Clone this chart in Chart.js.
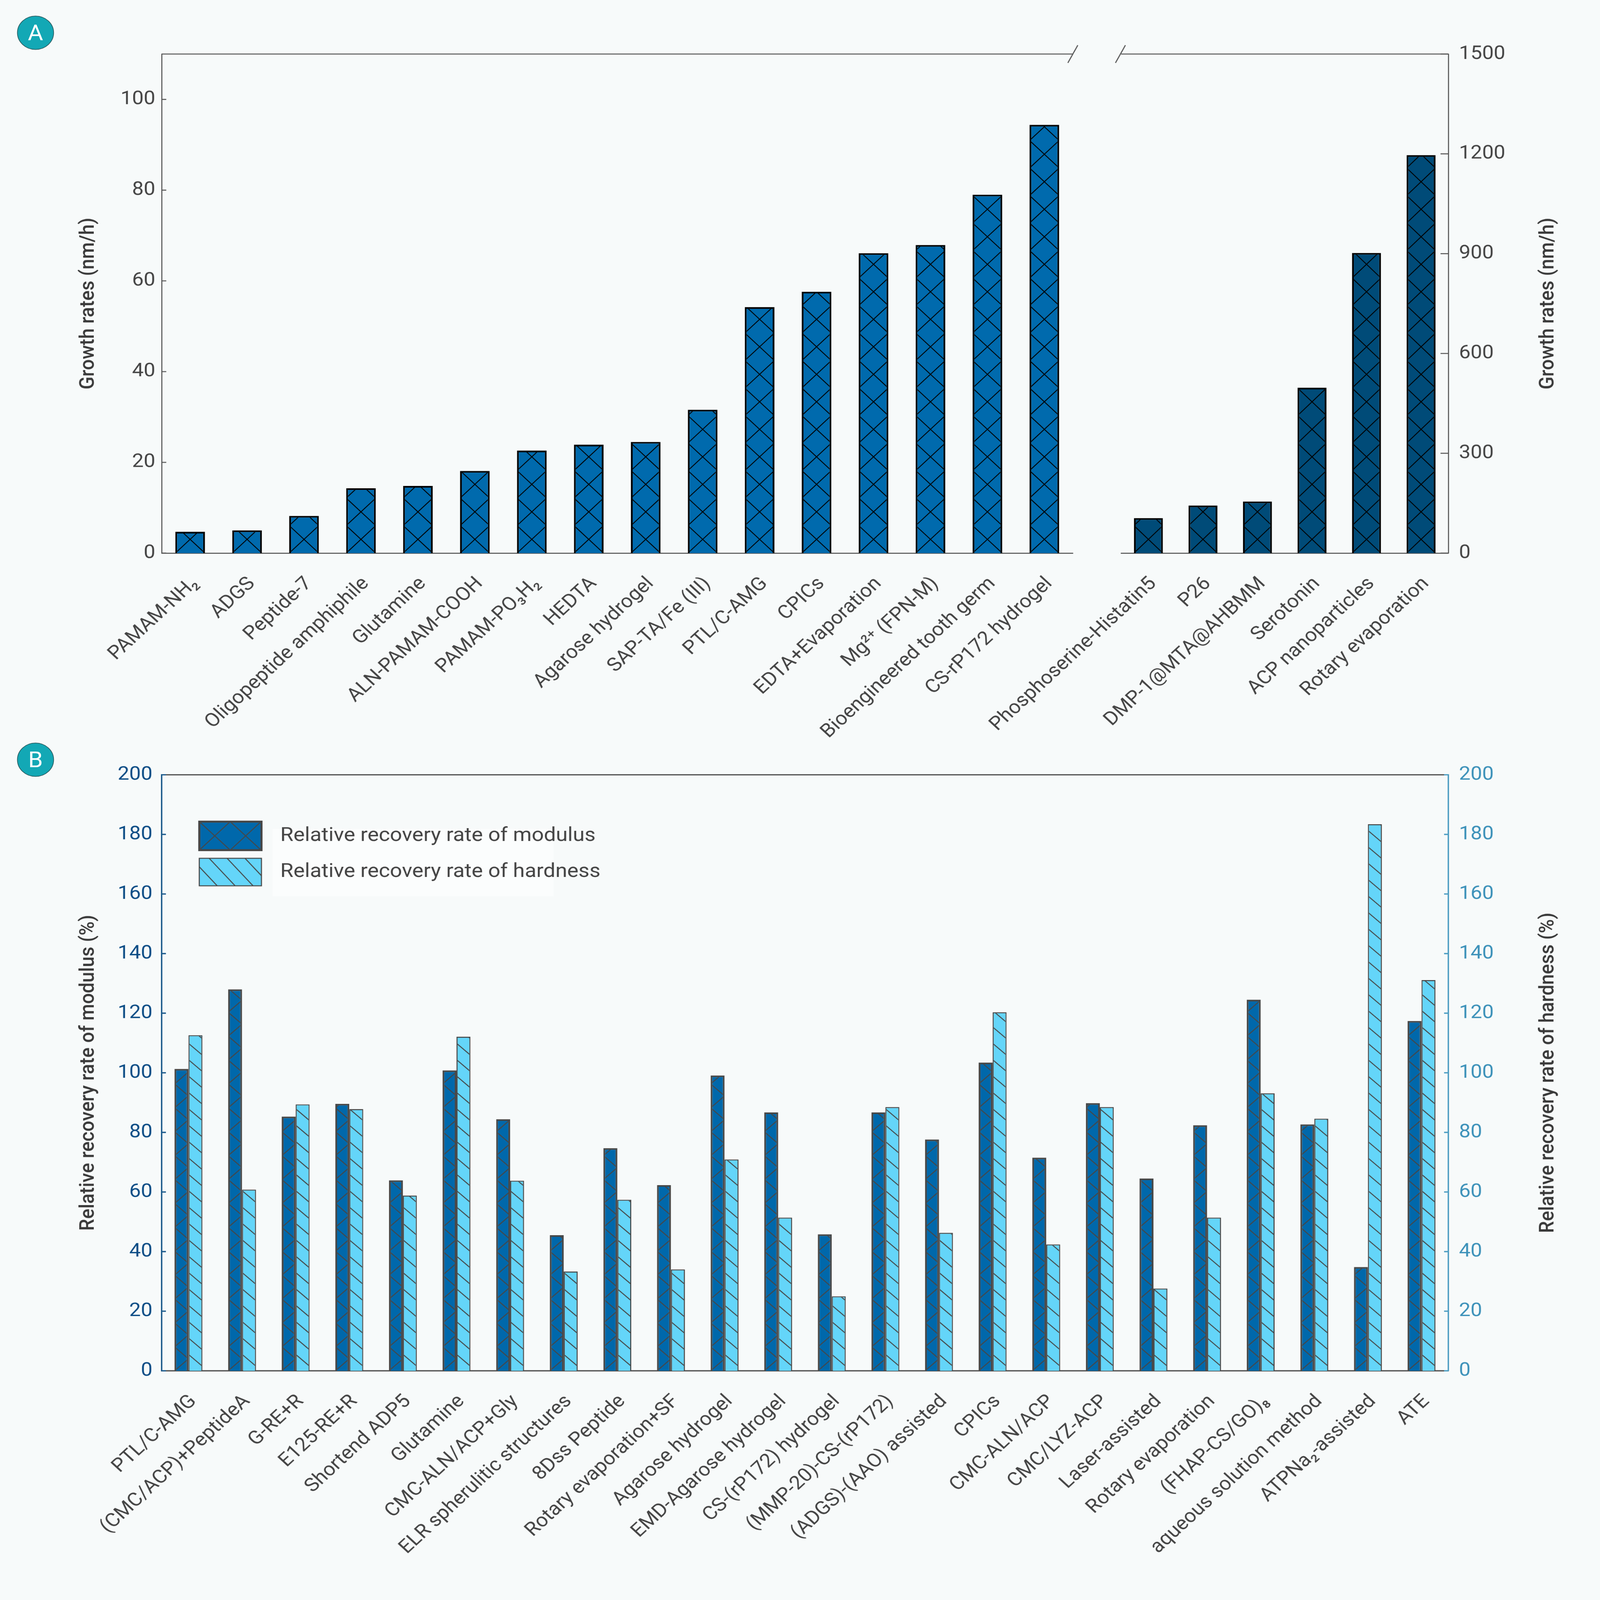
<!DOCTYPE html>
<html lang="en">
<head>
  <meta charset="UTF-8" />
  <title>Growth rates and relative recovery rates</title>
  <script src="https://cdn.jsdelivr.net/npm/chart.js"></script>
  <style>
    html, body { margin: 0; padding: 0; overflow: hidden; background: #f7fafa; }
    #page { width: 4504px; height: 4886px; background: #f7fafa; position: relative; transform-origin: 0 0; font-family: 'Roboto', sans-serif; }
    canvas { position: absolute; }
    .badge { position: absolute; width: 100px; height: 100px; border-radius: 50%; background: #13a8b5; border: 2px solid #2d5f63;
             color: #fff; font: 400 66px 'Roboto'; display: flex; align-items: center; justify-content: center; }
  </style>
</head>
<body>
  <div id="page">
    <div class="badge" style="left:48px;top:48px">A</div>
    <div class="badge" style="left:48px;top:2268px">B</div>
    <canvas id="growthLow" width="3090" height="2300" style="left:0;top:0"></canvas>
    <canvas id="growthHigh" width="1854" height="2300" style="left:2650px;top:0"></canvas>
    <canvas id="recovery" width="4504" height="2600" style="left:0;top:2200px"></canvas>
  </div>

  <script>
    // panel A, left part (nm/h, 0-110)
    const lowLabels = ['PAMAM-NH₂', 'ADGS', 'Peptide-7', 'Oligopeptide amphiphile', 'Glutamine', 'ALN-PAMAM-COOH',
      'PAMAM-PO₃H₂', 'HEDTA', 'Agarose hydrogel', 'SAP-TA/Fe (III)', 'PTL/C-AMG', 'CPICs', 'EDTA+Evaporation',
      'Mg²⁺ (FPN-M)', 'Bioengineered tooth germ', 'CS-rP172 hydrogel'];
    const lowRates = [4.7, 5.0, 8.2, 14.3, 14.8, 18.1, 22.6, 23.9, 24.5, 31.6, 54.2, 57.6, 66.1, 67.9, 79.0, 94.4];

    // panel A, right part (nm/h, 0-1500)
    const highLabels = ['Phosphoserine-Histatin5', 'P26', 'DMP-1@MTA@AHBMM', 'Serotonin', 'ACP nanoparticles', 'Rotary evaporation'];
    const highRates = [105, 143, 155, 497, 902, 1196];

    // panel B
    const recoveryLabels = ['PTL/C-AMG', '(CMC/ACP)+PeptideA', 'G-RE+R', 'E125-RE+R', 'Shortend ADP5', 'Glutamine',
      'CMC-ALN/ACP+Gly', 'ELR spherulitic structures', '8Dss Peptide', 'Rotary evaporation+SF', 'Agarose hydrogel',
      'EMD-Agarose hydrogel', 'CS-(rP172) hydrogel', '(MMP-20)-CS-(rP172)', '(ADGS)-(AAO) assisted', 'CPICs',
      'CMC-ALN/ACP', 'CMC/LYZ-ACP', 'Laser-assisted', 'Rotary evaporation', '(FHAP-CS/GO)₈', 'aqueous solution method',
      'ATPNa₂-assisted', 'ATE'];
    const modulusRates = [101.3, 128.0, 85.3, 89.6, 63.9, 100.8, 84.4, 45.5, 74.7, 62.3, 99.1, 86.7,
      45.8, 86.7, 77.6, 103.4, 71.5, 89.8, 64.5, 82.4, 124.5, 82.7, 34.8, 117.4];
    const hardnessRates = [112.6, 60.8, 89.4, 87.8, 58.8, 112.1, 63.8, 33.3, 57.4, 34.0, 70.9, 51.4,
      25.0, 88.5, 46.3, 120.3, 42.4, 88.5, 27.6, 51.4, 93.1, 84.6, 183.4, 131.1];

    const lowAxis = { min: 0, max: 110, step: 20 };
    const highAxis = { min: 0, max: 1500, step: 300 };
    const recoveryAxis = { min: 0, max: 200, step: 20 };

    // the figure is laid out at 4504x4886; fit it to whatever window we get
    const page = document.getElementById('page');
    const sx = window.innerWidth / 4504, sy = window.innerHeight / 4886;
    page.style.transform = 'scale(' + sx + ',' + sy + ')';

    // hatch lines anchored at the left edge and base of a box
    function drawHatch(ctx, box, x0, y0, w, h) {
      const s = h.slope || h.period * h.across / w;
      const span = box.r - x0 + 4;
      ctx.save();
      ctx.beginPath();
      ctx.rect(box.l, box.t, box.r - box.l, box.b - box.t);
      ctx.clip();
      ctx.strokeStyle = h.color;
      ctx.lineWidth = h.width;
      const kMax = Math.ceil((y0 - box.t + s * span) / h.period) + 1;
      ctx.beginPath();
      h.dirs.forEach(d => {
        for (let k = -3; k <= kMax; k++) {
          const ya = y0 - k * h.period;
          ctx.moveTo(x0, ya);
          ctx.lineTo(x0 + span, ya + d * s * span);
        }
      });
      ctx.stroke();
      ctx.restore();
    }

    const hatchPlugin = {
      id: 'hatch',
      afterDatasetsDraw(chart) {
        const ctx = chart.ctx;
        chart.data.datasets.forEach((ds, i) => {
          if (!ds.hatch) return;
          const bw = ds.borderWidth || 0;
          chart.getDatasetMeta(i).data.forEach(bar => {
            const { x, y, base, width } = bar.getProps(['x', 'y', 'base', 'width'], true);
            const left = x - width / 2;
            const box = { l: left + bw, r: left + width - bw, t: Math.min(y, base) + bw, b: Math.max(y, base) };
            drawHatch(ctx, box, left, Math.max(y, base), width, ds.hatch);
          });
        });
      }
    };

    const framePlugin = {
      id: 'frame',
      afterDraw(chart, args, o) {
        const { ctx, chartArea: a } = chart;
        ctx.save();
        ctx.strokeStyle = o.color || '#555';
        ctx.lineWidth = o.width || 3;
        ctx.beginPath();
        ctx.moveTo(a.left, a.top);
        ctx.lineTo(a.right, a.top);
        ctx.stroke();
        if (o.breakAt) {
          const bx = o.breakAt === 'right' ? a.right : a.left - 2;
          ctx.beginPath();
          ctx.moveTo(bx - 14, a.top + 27);
          ctx.lineTo(bx + 14, a.top - 27);
          ctx.stroke();
        }
        ctx.restore();
      }
    };

    // tick marks pointing into the plot
    const innerTicks = {
      id: 'innerTicks',
      afterDraw(chart, args, o) {
        const ctx = chart.ctx;
        (o.scales || []).forEach(t => {
          const sc = chart.scales[t.id];
          const left = sc.position === 'left';
          const x0 = left ? sc.right : sc.left;
          ctx.save();
          ctx.strokeStyle = t.color;
          ctx.lineWidth = t.width;
          sc.ticks.forEach(tk => {
            const py = sc.getPixelForValue(tk.value);
            ctx.beginPath();
            ctx.moveTo(x0, py);
            ctx.lineTo(x0 + (left ? 1 : -1) * t.length, py);
            ctx.stroke();
          });
          ctx.restore();
        });
      }
    };

    // right-hand axis titles read bottom to top
    const sideTitle = {
      id: 'sideTitle',
      afterDraw(chart, args, o) {
        if (!o.text) return;
        const { ctx, chartArea: a } = chart;
        ctx.save();
        ctx.translate(o.x, (a.top + a.bottom) / 2);
        ctx.rotate(-Math.PI / 2);
        ctx.font = '500 58px Roboto';
        ctx.fillStyle = o.color || '#3a3a3a';
        ctx.textAlign = 'center';
        ctx.textBaseline = 'middle';
        ctx.fillText(o.text, 0, 0);
        ctx.restore();
      }
    };

    const swatchLegend = {
      id: 'swatchLegend',
      afterDraw(chart, args, o) {
        if (!o.display) return;
        const { ctx, chartArea: a } = chart;
        ctx.save();
        ctx.fillStyle = '#fbfdfd';
        ctx.fillRect(a.left + 312, a.top + 165, 791, 206);
        chart.data.datasets.forEach((ds, i) => {
          const sw = o.items[i];
          const l = a.left + 106, t = a.top + sw.top, w = 175, h = sw.h;
          ctx.fillStyle = ds.backgroundColor;
          ctx.fillRect(l, t, w, h);
          drawHatch(ctx, { l: l, r: l + w, t: t, b: t + h }, l, t + h, w, sw.hatch);
          ctx.strokeStyle = ds.borderColor;
          ctx.lineWidth = sw.border;
          ctx.strokeRect(l, t, w, h);
          ctx.font = '400 60px Roboto';
          ctx.fillStyle = '#444';
          ctx.textAlign = 'left';
          ctx.textBaseline = 'middle';
          ctx.fillText(ds.label, a.left + 334, t + h / 2);
        });
        ctx.restore();
      }
    };

    const xTicks = {
      minRotation: 45, maxRotation: 45, autoSkip: false, padding: 60, labelOffset: 14,
      color: '#444', font: { size: 58 }
    };
    const plainNumber = v => String(v);

    function makeCharts() {
      Chart.defaults.font.family = 'Roboto';

      new Chart(document.getElementById('growthLow'), {
        type: 'bar',
        data: {
          labels: lowLabels,
          datasets: [{
            data: lowRates, backgroundColor: '#006aad', borderColor: '#000', borderWidth: 5,
            barPercentage: 0.52, categoryPercentage: 1,
            hatch: { dirs: [1, -1], period: 84, across: 1, color: '#000', width: 2.5 }
          }]
        },
        options: {
          responsive: false, animation: false, devicePixelRatio: 1,
          layout: { padding: { top: 165, right: 70, left: 0, bottom: 0 } },
          plugins: {
            legend: { display: false }, tooltip: { enabled: false },
            frame: { color: '#555', width: 3, breakAt: 'right' },
            innerTicks: { scales: [{ id: 'y', length: 13, color: '#555', width: 3 }] }
          },
          scales: {
            x: {
              grid: { display: false, drawTicks: false }, border: { color: '#555', width: 3 },
              ticks: xTicks, afterFit: s => { s.height = 611; }
            },
            y: {
              min: lowAxis.min, max: lowAxis.max,
              ticks: { stepSize: lowAxis.step, includeBounds: false, padding: 18, color: '#444', font: { size: 58 }, callback: plainNumber },
              grid: { display: false, drawTicks: false }, border: { color: '#555', width: 3 },
              title: { display: true, text: 'Growth rates (nm/h)', color: '#3a3a3a', font: { size: 58, weight: '500' }, padding: { top: 215, bottom: 0 } },
              afterFit: s => { s.width = 455; }
            }
          }
        },
        plugins: [hatchPlugin, framePlugin, innerTicks]
      });

      new Chart(document.getElementById('growthHigh'), {
        type: 'bar',
        data: {
          labels: highLabels,
          datasets: [{
            data: highRates, backgroundColor: '#004b78', borderColor: '#000', borderWidth: 5,
            barPercentage: 0.53, categoryPercentage: 1,
            hatch: { dirs: [1, -1], period: 84, across: 1, color: '#000', width: 2.5 }
          }]
        },
        options: {
          responsive: false, animation: false, devicePixelRatio: 1,
          layout: { padding: { top: 165, right: 0, left: 506, bottom: 0 } },
          plugins: {
            legend: { display: false }, tooltip: { enabled: false },
            frame: { color: '#555', width: 3, breakAt: 'left' },
            innerTicks: { scales: [{ id: 'y', length: 22, color: '#555', width: 3 }] },
            sideTitle: { text: 'Growth rates (nm/h)', x: 1708, color: '#3a3a3a' }
          },
          scales: {
            x: {
              grid: { display: false, drawTicks: false }, border: { color: '#555', width: 3 },
              ticks: xTicks, afterFit: s => { s.height = 611; }
            },
            y: {
              position: 'right', min: highAxis.min, max: highAxis.max,
              ticks: { stepSize: highAxis.step, padding: 30, color: '#444', font: { size: 58 }, callback: plainNumber },
              grid: { display: false, drawTicks: false }, border: { color: '#555', width: 3 },
              afterFit: s => { s.width = 427; }
            }
          }
        },
        plugins: [hatchPlugin, framePlugin, innerTicks, sideTitle]
      });

      new Chart(document.getElementById('recovery'), {
        type: 'bar',
        data: {
          labels: recoveryLabels,
          datasets: [{
            label: 'Relative recovery rate of modulus',
            data: modulusRates, yAxisID: 'y', backgroundColor: '#0068ab', borderColor: '#474747', borderWidth: 5,
            barPercentage: 1, categoryPercentage: 0.52,
            hatch: { dirs: [1, -1], period: 73, across: 0.5, color: '#474747', width: 2.8 }
          }, {
            label: 'Relative recovery rate of hardness',
            data: hardnessRates, yAxisID: 'y2', backgroundColor: '#64d5f9', borderColor: '#474747', borderWidth: 3,
            barPercentage: 1, categoryPercentage: 0.52,
            hatch: { dirs: [1], period: 50, slope: 0.92, color: '#474747', width: 2.8 }
          }]
        },
        options: {
          responsive: false, animation: false, devicePixelRatio: 1,
          layout: { padding: { top: 166, right: 0, left: 0, bottom: 0 } },
          plugins: {
            legend: { display: false }, tooltip: { enabled: false },
            frame: { color: '#555', width: 4 },
            innerTicks: { scales: [
              { id: 'y', length: 12, color: '#1d5b8c', width: 4 },
              { id: 'y2', length: 12, color: '#4c9dc2', width: 4 }
            ] },
            sideTitle: { text: 'Relative recovery rate of hardness (%)', x: 4358, color: '#3a3a3a' },
            swatchLegend: {
              display: true,
              items: [
                { top: 143, h: 87, border: 6, hatch: { dirs: [1, -1], period: 87, slope: 1, color: '#474747', width: 2.8 } },
                { top: 255, h: 84, border: 3, hatch: { dirs: [1], period: 58, slope: 1.15, color: '#474747', width: 2.8 } }
              ]
            }
          },
          scales: {
            x: {
              grid: { display: false, drawTicks: false }, border: { color: '#555', width: 4 },
              ticks: xTicks, afterFit: s => { s.height = 614; }
            },
            y: {
              position: 'left', min: recoveryAxis.min, max: recoveryAxis.max,
              ticks: { stepSize: recoveryAxis.step, padding: 26, color: '#0b4c85', font: { size: 58 }, callback: plainNumber },
              grid: { display: false, drawTicks: false }, border: { color: '#1d5b8c', width: 4 },
              title: { display: true, text: 'Relative recovery rate of modulus (%)', color: '#3a3a3a', font: { size: 58, weight: '500' }, padding: { top: 215, bottom: 0 } },
              afterFit: s => { s.width = 455; }
            },
            y2: {
              position: 'right', min: recoveryAxis.min, max: recoveryAxis.max,
              ticks: { stepSize: recoveryAxis.step, padding: 30, color: '#3c91b9', font: { size: 58 }, callback: plainNumber },
              grid: { display: false, drawTicks: false }, border: { color: '#4c9dc2', width: 4 },
              afterFit: s => { s.width = 427; }
            }
          }
        },
        plugins: [hatchPlugin, framePlugin, innerTicks, sideTitle, swatchLegend]
      });
    }

    Promise.all([
      document.fonts.load('58px Roboto'),
      document.fonts.load('500 58px Roboto')
    ]).then(makeCharts, makeCharts);
  </script>
</body>
</html>
